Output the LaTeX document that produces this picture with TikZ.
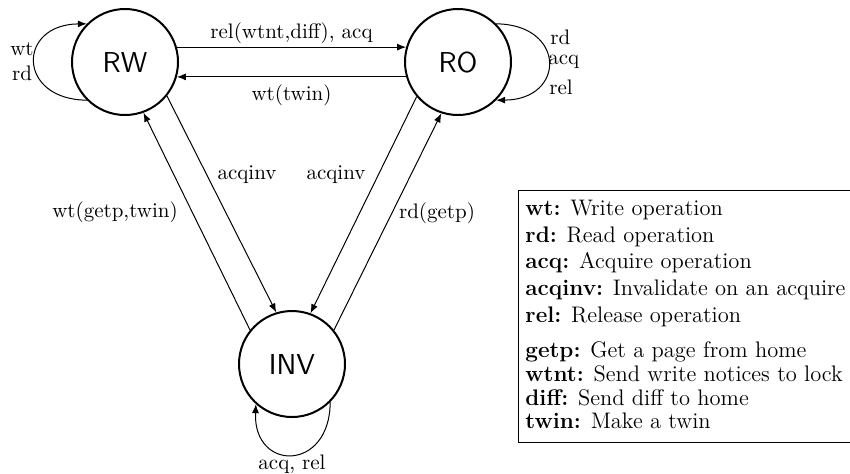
\documentclass[tikz,border=0pt]{standalone}
\usetikzlibrary{arrows.meta}
\begin{document}
\begin{tikzpicture}[x=0.5pt,y=-0.5pt,
  state/.style={circle,draw,line width=1pt,minimum size=53pt,inner sep=0pt,font=\sffamily\fontsize{14.4}{17}\selectfont},
  edge/.style={line width=0.5pt,-{Latex[length=4.5pt,width=3.5pt]}},
  lbl/.style={inner sep=0pt,font=\fontsize{10.5}{12.6}\selectfont},
  leg/.style={inner sep=0pt,anchor=base west,font=\fontsize{11.25}{13.5}\selectfont}]
\useasboundingbox (0,0) rectangle (850,473);
\node[state] (RW) at (125,62) {RW};
\node[state] (RO) at (458,62) {RO};
\node[state] (INV) at (292,364) {INV};

% horizontal edges
\draw[edge] (RW.16) -- node[lbl,midway,yshift=7pt] (l1) {rel(wtnt,diff), acq} (RO.164);
\draw[edge] (RO.196) -- node[lbl,midway,yshift=-9pt] (l2) {wt(twin)} (RW.-16);

% diagonal edges
\draw[edge] (RW.-39) -- (INV.107);
\draw[edge] (INV.141) -- (RW.-70);
\draw[edge] (RO.220.6) -- (INV.70.6);
\draw[edge] (INV.39.7) -- (RO.252.6);

% self loops
\draw[edge] (RW.225) .. controls (17,99.5) and (17,24.5) .. (RW.135);
\draw[edge] (RO.45) .. controls (566,24.5) and (566,99.5) .. (RO.-45);
\draw[edge] (INV.-45.7) .. controls (330,472) and (253,472) .. (INV.228.4);

% labels
\node[lbl,align=center] (lrw) at (22,62) {wt\\rd};
\node[lbl,anchor=west] (lro1) at (550,37) {rd};
\node[lbl,anchor=west] (lro2) at (548,62) {acq};
\node[lbl,anchor=west] (lro3) at (549,87) {rel};
\node[lbl] (linv) at (292,464) {acq, rel};
\node[lbl] (a1) at (247,175) {acqinv};
\node[lbl] (a2) at (336,175) {acqinv};
\node[lbl] (wg) at (115,212) {wt(getp,twin)};
\node[lbl] (rg) at (437,213) {rd(getp)};

% legend
\draw[line width=0.5pt] (870,190) -- (518,190) -- (518,442) -- (870,442);
\node[leg] (g1) at (525,215) {\textbf{wt:} Write operation};
\node[leg] (g2) at (525,242) {\textbf{rd:} Read operation};
\node[leg] (g3) at (525,268) {\textbf{acq:} Acquire operation};
\node[leg] (g4) at (525,295) {\textbf{acqinv:} Invalidate on an acquire};
\node[leg] (g5) at (525,322) {\textbf{rel:} Release operation};
\node[leg] (g6) at (525,357) {\textbf{getp:} Get a page from home};
\node[leg] (g7) at (525,381) {\textbf{wtnt:} Send write notices to lock};
\node[leg] (g8) at (525,405) {\textbf{diff:} Send diff to home};
\node[leg] (g9) at (525,428) {\textbf{twin:} Make a twin};
\end{tikzpicture}
\end{document}
